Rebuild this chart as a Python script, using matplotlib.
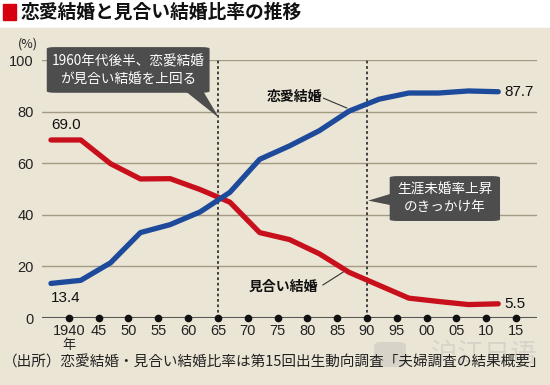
import matplotlib.pyplot as plt
from matplotlib.patches import Rectangle, FancyBboxPatch, Polygon

plt.rcParams['font.family'] = ['Noto Sans CJK JP', 'DejaVu Sans']

# -- Data --
years = [1937, 1942, 1947, 1952, 1957, 1962, 1967, 1972, 1977, 1982, 1987, 1992, 1997, 2002, 2007, 2012]
love = [13.4, 14.6, 21.4, 33.1, 36.2, 41.1, 48.7, 61.5, 66.7, 72.6, 80.2, 84.8, 87.2, 87.2, 88.0, 87.7]
arranged = [69.0, 69.0, 59.8, 53.9, 54.0, 49.8, 44.9, 33.1, 30.4, 24.9, 17.7, 12.7, 7.7, 6.4, 5.2, 5.5]
tick_years = [1940, 1945, 1950, 1955, 1960, 1965, 1970, 1975, 1980, 1985, 1990, 1995, 2000, 2005, 2010, 2015]
tick_labels = ['1940', '45', '50', '55', '60', '65', '70', '75', '80', '85', '90', '95', '00', '05', '10', '15']
y_ticks = [0, 20, 40, 60, 80, 100]
marker_years = [1965, 1990]

BLUE = '#1d4a9b'
RED = '#c8101c'
BG = '#ebe5d5'
GRID = '#a39a84'

fig = plt.figure(figsize=(5.5, 3.85), dpi=100, facecolor='white')

# beige panel and title
fig.patches.append(Rectangle((0, 0), 1, 1 - 28 / 385, transform=fig.transFigure, color=BG, zorder=-10))
fig.patches.append(Rectangle((3 / 550, 1 - 20 / 385), 13 / 550, 16 / 385, transform=fig.transFigure,
                             color='#d7000f', zorder=-5))
fig.text(21 / 550, 1 - 12 / 385, '恋愛結婚と見合い結婚比率の推移', fontsize=13.5, fontweight='bold',
         va='center', ha='left', color='#111111')

# watermark
fig.patches.append(FancyBboxPatch((374 / 550, 1 - 367 / 385), 32 / 550, 25 / 385,
                                  boxstyle='round,pad=0,rounding_size=0.012', transform=fig.transFigure,
                                  fc='#d3cfc6', ec='none', alpha=0.8, zorder=-4))
fig.text(537 / 550, 1 - 354 / 385, '沪江日语', ha='right', va='center', fontsize=19, color='#d3cfc6',
         alpha=0.8, family='Noto Sans CJK SC', zorder=-4)

ax = fig.add_axes([42 / 550, 67 / 385, 495 / 550, 258 / 385])
ax.set_zorder(2)
ax.set_facecolor('none')
ax.set_xlim(1935.5, 2018.5)
ax.set_ylim(0, 100)
ax.spines[:].set_visible(False)

for v in y_ticks[1:]:
    ax.axhline(v, color=GRID, lw=1.0, zorder=1)
ax.axhline(0, color='#555555', lw=1.5, zorder=2)
ax.plot(tick_years, [0] * len(tick_years), 'o', color='#111111', ms=4.5, zorder=3, clip_on=False)

for yr in marker_years:
    ax.plot([yr, yr], [0, 100], color='#333333', lw=1.3, ls=(0, (1.5, 1.5)), zorder=2)

ax.plot(years, arranged, color=RED, lw=3.8, solid_capstyle='round', solid_joinstyle='round', zorder=4)
ax.plot(years, love, color=BLUE, lw=3.8, solid_capstyle='round', solid_joinstyle='round', zorder=5)

ax.set_xticks([])
ax.set_yticks(y_ticks)
ax.set_yticklabels([str(v) for v in y_ticks], fontsize=10.5, color='#222222', family='Liberation Sans')
ax.tick_params(axis='y', length=0, pad=6)
for yr, lab in zip(tick_years, tick_labels):
    ax.text(yr, -5.2, lab, ha='center', va='center', fontsize=10.5, color='#222222', family='Liberation Sans')
ax.text(tick_years[0], -10.8, '年', ha='center', va='center', fontsize=9.5, color='#222222')
ax.text(1933.2, 103.5, '(%)', ha='center', va='bottom', fontsize=9, color='#222222', clip_on=False)

# value labels
ax.text(years[0], arranged[0] + 3, f'{arranged[0]:.1f}', ha='left', va='bottom', fontsize=11,
        family='Liberation Sans', color='#111111')
ax.text(years[0], love[0] - 3, f'{love[0]:.1f}', ha='left', va='top', fontsize=11,
        family='Liberation Sans', color='#111111')
ax.text(years[-1] + 1, love[-1], f'{love[-1]:.1f}', ha='left', va='center', fontsize=11,
        family='Liberation Sans', color='#111111')
ax.text(years[-1] + 1, arranged[-1], f'{arranged[-1]:.1f}', ha='left', va='center', fontsize=11,
        family='Liberation Sans', color='#111111')

# series labels with leader lines
ax.text(1982.4, 85.7, '恋愛結婚', ha='right', va='center', fontsize=10, fontweight='bold', color='#111111')
ax.plot([1982.7, 1986.6], [85.2, 81.4], color='#333333', lw=0.8, zorder=6)
ax.text(1981.8, 12.2, '見合い結婚', ha='right', va='center', fontsize=10, fontweight='bold', color='#111111')
ax.plot([1982.6, 1986.0], [12.8, 17.8], color='#333333', lw=0.8, zorder=6)

# callouts
BOX = '#4d4d4d'
def callout(x0, y0, x1, y1, tail, text):
    ax.add_patch(FancyBboxPatch((x0, y0), x1 - x0, y1 - y0, boxstyle='round,pad=0,rounding_size=1.4',
                                mutation_aspect=2.6 / 5.96, fc=BOX, ec='none', zorder=7, clip_on=False))
    ax.add_patch(Polygon(tail, closed=True, fc=BOX, ec='none', zorder=7, clip_on=False))
    ax.text((x0 + x1) / 2, (y0 + y1) / 2, text, ha='center', va='center', fontsize=9.8, color='white',
            linespacing=1.3, zorder=8)

callout(1936.3, 87.3, 1963.6, 105.0, [(1959.5, 88), (1962.5, 88), (1965.2, 77.5)],
        '1960年代後半、恋愛結婚\nが見合い結婚を上回る')
callout(1993.8, 37.6, 2012.3, 55.0, [(1994.5, 48.5), (1994.5, 43.5), (1990.2, 45.5)],
        '生涯未婚率上昇\nのきっかけ年')

fig.text(3 / 550, 1 - 363 / 385, '（出所）恋愛結婚・見合い結婚比率は第15回出生動向調査「夫婦調査の結果概要」',
         ha='left', va='center', fontsize=10.5, color='#222222')

fig.savefig('out.png', dpi=100, facecolor=fig.get_facecolor())
